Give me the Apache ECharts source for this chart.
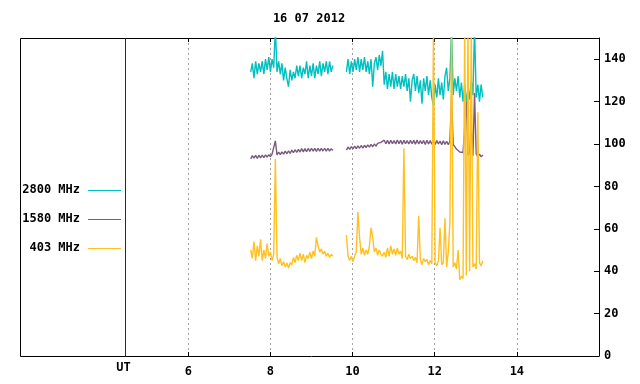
<!DOCTYPE html>
<html><head><meta charset="utf-8">
<script src="https://cdn.jsdelivr.net/npm/echarts@6/dist/echarts.min.js"></script>
<style>html,body{margin:0;padding:0;background:#fff}#c{width:640px;height:384px}</style>
</head><body><div id="c"></div>
<script>
const titleText = '16 07 2012';
const xTickLabels = [6, 8, 10, 12, 14];
const utLabel = 'UT';
const utPosition = 4.46;
const seriesNames = ['2800 MHz', '1580 MHz', '403 MHz'];
const seriesColors = ['#00c0c0', '#7a5a80', '#ffc020'];
const sampleStep = 0.04;
const seg1Start = 7.52;
const seg2Start = 9.85;

const f2800seg1 = [134,138,131,139,133,138,134,139,133,140,
 135,141,134,140,136,155,134,139,133,138,
 130,136,131,127,135,130,134,131,137,132,
 137,131,136,133,139,131,137,132,138,131,
 137,133,139,132,138,134,139,133,139,134,
 137];
const f2800seg2 = [134,140,133,139,134,140,135,141,134,140,
 135,141,134,139,133,140,127,138,141,135,
 142,137,144,128,134,126,133,127,134,126,
 133,127,132,126,132,127,133,125,131,120,
 130,133,125,132,124,130,119,131,125,132,
 123,130,122,118,128,122,131,123,129,121,
 132,136,125,131,155,123,131,125,132,122,
 129,120,128,119,127,121,130,123,155,122,
 128,120,128,122];
const f1580seg1 = [93.0,94.5,93.3,94.6,93.2,94.7,93.5,94.8,93.6,94.9,
 93.8,95.0,94.0,95.2,94.4,101.5,94.8,96.2,95.0,96.3,
 95.2,96.6,95.4,96.8,95.6,97.1,95.9,97.3,96.0,97.5,
 96.2,97.8,96.3,97.8,96.4,97.9,96.5,98.0,96.6,97.9,
 96.5,98.0,96.6,97.9,96.7,98.0,96.6,97.9,96.7,97.8,
 96.9];
const f1580seg2 = [97.1,98.6,97.5,98.8,97.7,99.0,97.8,99.1,98.0,99.3,
 98.1,99.4,98.3,99.6,98.5,99.8,98.7,100.0,99.0,100.3,
 99.4,100.8,100.0,101.8,100.1,101.7,100.0,101.8,100.2,101.6,
 100.0,101.9,100.1,101.7,99.9,101.8,100.1,101.6,100.0,101.8,
 100.1,101.7,99.9,101.9,100.0,101.6,100.1,101.7,99.8,101.8,
 100.0,101.6,99.9,101.5,99.8,101.6,100.0,101.4,99.7,101.5,
 99.8,101.3,99.7,101.2,122.5,99.8,99.0,97.6,97.0,96.2,
 95.5,96.0,95.2,120,94.6,95.8,110,94.5,124,95.3,
 94.1,95.2,94.0,94.8];
const f403seg1 = [50,46,54,45,52,47,55,45,50,46,
 53,47,49,45,48,93,46.5,43.5,46,42.5,
 44.5,42,44,41.5,44,43,46.5,44,47.5,45,
 48.5,45,48,44,47.5,46,49,46,49.5,47,
 56,52,49,50.5,48,49.5,47,48.5,46.5,48,
 47];
const f403seg2 = [57,47,45,47,44.5,47,49,68,56,48,
 51,47.5,50,48,52,60.5,56,49,51,47.5,
 50,48,47,49,46.5,51,47,52,48,50.5,
 47.5,51,48,49.5,46,98,47,45.5,48,46,
 47,45,46.5,44,66,45.5,43,46,44.5,45.5,
 43,45,43.5,155,44,42.5,45,60.5,43,44,
 65,42,49,63,155,42,44,41,50,36,
 37.5,36.5,155,38,155,40,155,42,43.5,41,
 115,44,42.5,45];

function build(a, b) {
  const d = [];
  a.forEach((v, i) => d.push([+(seg1Start + i * sampleStep).toFixed(3), v]));
  const gapT = (seg1Start + (a.length - 1) * sampleStep + seg2Start) / 2;
  d.push([gapT, null]);
  b.forEach((v, i) => d.push([+(seg2Start + i * sampleStep).toFixed(3), v]));
  return d;
}
const seriesData = [build(f2800seg1, f2800seg2), build(f1580seg1, f1580seg2), build(f403seg1, f403seg2)];

const FONT = 'DejaVu Sans Mono';
const chart = echarts.init(document.getElementById('c'), null, {renderer: 'canvas'});
const labelStyle = {color: '#000', fontFamily: FONT, fontWeight: 'bold', fontSize: 12};

chart.setOption({
  animation: false,
  backgroundColor: '#fff',
  grid: {left: 24, right: 41, top: 38, bottom: 28, containLabel: false},
  xAxis: [{
    type: 'value', min: 2, max: 16, interval: 2, position: 'bottom',
    axisLine: {show: true, onZero: false, lineStyle: {color: '#000', width: 1}},
    axisTick: {show: true, inside: true, length: 4, lineStyle: {color: '#000'}},
    axisLabel: Object.assign({margin: 10, formatter: v => xTickLabels.includes(v) ? String(v) : ''}, labelStyle),
    splitLine: {show: true, showMinLine: false, showMaxLine: false, lineStyle: {color: '#a0a0a0', type: [2, 3], width: 1}}
  }, {
    type: 'value', min: 2, max: 16, interval: 2, position: 'top',
    axisLine: {show: true, onZero: false, lineStyle: {color: '#000', width: 1}},
    axisTick: {show: true, inside: true, length: 4, lineStyle: {color: '#000'}},
    axisLabel: {show: false},
    splitLine: {show: false}
  }],
  yAxis: {
    type: 'value', min: 0, max: 150, interval: 20, position: 'right',
    axisLine: {show: true, onZero: false, lineStyle: {color: '#000', width: 1}},
    axisTick: {show: true, inside: true, length: 5, lineStyle: {color: '#000'}},
    axisLabel: Object.assign({margin: 5, showMaxLabel: false}, labelStyle),
    splitLine: {show: false}
  },
  series: seriesNames.map((n, k) => ({
    name: n, type: 'line', data: seriesData[k], showSymbol: false, symbol: 'none',
    connectNulls: false, clip: true, z: 2 + k,
    lineStyle: {color: seriesColors[k], width: 1.4},
    itemStyle: {color: seriesColors[k]}
  }))
});

const utX = Math.round(chart.convertToPixel({xAxisIndex: 0}, utPosition)) + 0.5;
const gTop = 38.5, gBot = 356.5, gLeft = 20.5;
const legendY = [190, 219, 248];
const graphics = [
  {type: 'rect', z: 100, shape: {x: gLeft, y: gTop, width: utX - gLeft, height: gBot - gTop},
   style: {fill: '#fff', stroke: '#000', lineWidth: 1}},
  {type: 'line', z: 101, shape: {x1: utX, y1: gTop, x2: utX, y2: gBot},
   style: {stroke: '#8b0000', lineWidth: 1}},
  {type: 'text', z: 101, x: utX - 2, y: 368,
   style: {text: utLabel, align: 'center', verticalAlign: 'middle', fill: '#000',
     font: 'bold 12px "' + FONT + '"'}},
  {type: 'text', z: 101, x: 309, y: 19,
   style: {text: titleText, align: 'center', verticalAlign: 'middle', fill: '#000',
     font: 'bold 12px "' + FONT + '"'}}
];
seriesNames.forEach((n, k) => {
  graphics.push({type: 'text', z: 101, x: 80, y: legendY[k],
    style: {text: n, align: 'right', verticalAlign: 'middle', fill: '#000', font: 'bold 12px "' + FONT + '"'}});
  graphics.push({type: 'line', z: 101, shape: {x1: 88, y1: legendY[k] + 0.5, x2: 121, y2: legendY[k] + 0.5},
    style: {stroke: seriesColors[k], lineWidth: 1}});
});
chart.setOption({graphic: graphics});
</script>
</body></html>
